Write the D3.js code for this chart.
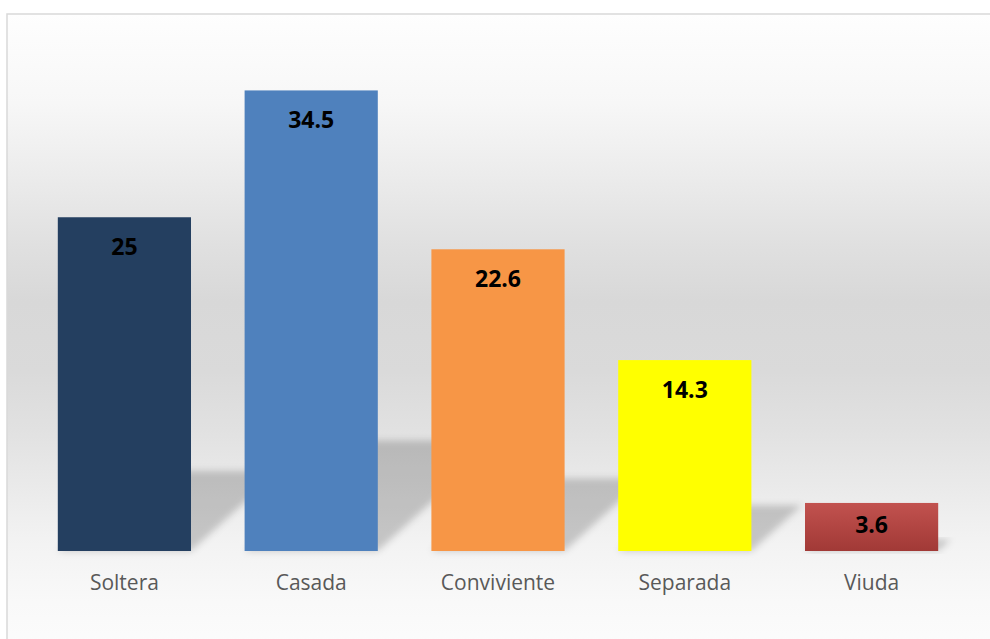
<!DOCTYPE html>
<html>
<head>
<meta charset="utf-8">
<script src="https://cdn.jsdelivr.net/npm/d3@7"></script>
<style>
  html, body { margin: 0; padding: 0; background: #ffffff; }
  svg { display: block; }
</style>
</head>
<body>
<div id="chart"></div>
<script>
// Estado civil (%)
const categories = ["Soltera", "Casada", "Conviviente", "Separada", "Viuda"];
const values = [25, 34.5, 22.6, 14.3, 3.6];
const barColors = ["#243f60", "#4f81bd", "#f79646", "#ffff00", "#c0504d"];

const W = 990, H = 639;
const plot = { left: 31, right: 965, top: 17, bottom: 551 };

const svg = d3.select("#chart").append("svg")
  .attr("width", W).attr("height", H);

const defs = svg.append("defs");

// chart area fill: light at top and bottom, darker band in the middle
const bg = defs.append("linearGradient")
  .attr("id", "bgGrad").attr("x1", 0).attr("y1", 0).attr("x2", 0).attr("y2", 1);
[[0, "#fefefe"], [0.14, "#f7f7f7"], [0.25, "#ececec"], [0.36, "#e0e0e0"],
 [0.45, "#d8d8d8"], [0.56, "#dadada"], [0.65, "#e1e1e1"], [0.73, "#e9e9e9"],
 [0.83, "#f3f3f3"], [0.92, "#f9f9f9"], [1, "#fcfcfc"]]
  .forEach(([o, c]) => bg.append("stop").attr("offset", o).attr("stop-color", c));

// darker bottom on the last bar
const redGrad = defs.append("linearGradient")
  .attr("id", "redGrad").attr("x1", 0).attr("y1", 0).attr("x2", 0).attr("y2", 1);
redGrad.append("stop").attr("offset", 0).attr("stop-color", "#c2524f");
redGrad.append("stop").attr("offset", 1).attr("stop-color", "#a13936");

const blur = defs.append("filter").attr("id", "shadowBlur")
  .attr("x", "-20%").attr("y", "-20%").attr("width", "140%").attr("height", "140%");
blur.append("feGaussianBlur").attr("stdDeviation", 3.5);

// chart area with its frame
svg.append("rect")
  .attr("x", 7).attr("y", 14).attr("width", W + 10).attr("height", H)
  .attr("fill", "url(#bgGrad)")
  .attr("stroke", "#d9d9d9").attr("stroke-width", 1.5);

const x = d3.scaleBand()
  .domain(categories)
  .range([plot.left, plot.right])
  .paddingInner(0.287)
  .paddingOuter(0.1435);

const y = d3.scaleLinear().domain([0, 40]).range([plot.bottom, plot.top]);

const data = categories.map((c, i) => ({ c, v: values[i], color: barColors[i] }));

// perspective shadows thrown up and to the right of each bar
const shadowScale = 0.24, shadowRun = 1.1;
svg.append("g").selectAll("path")
  .data(data)
  .join("path")
  .attr("d", d => {
    const x0 = x(d.c), x1 = x0 + x.bandwidth();
    const base = y(0);
    const sh = (y(0) - y(d.v)) * shadowScale;
    const k = sh * shadowRun;
    return `M${x0},${base}L${x1},${base}L${x1 + k},${base - sh}L${x0 + k},${base - sh}Z`;
  })
  .attr("fill", "#000")
  .attr("fill-opacity", 0.19)
  .attr("filter", "url(#shadowBlur)");

// bars
svg.append("g").selectAll("rect")
  .data(data)
  .join("rect")
  .attr("x", d => x(d.c))
  .attr("y", d => y(d.v))
  .attr("width", x.bandwidth())
  .attr("height", d => y(0) - y(d.v))
  .attr("fill", (d, i) => i === 4 ? "url(#redGrad)" : d.color);

// value labels near the top of each bar; short bars get theirs centred
svg.append("g").selectAll("text")
  .data(data)
  .join("text")
  .attr("x", d => x(d.c) + x.bandwidth() / 2)
  .attr("y", d => Math.min(y(d.v) + 37.5, (y(d.v) + y(0)) / 2 + 6))
  .attr("text-anchor", "middle")
  .attr("font-family", "'Open Sans', sans-serif")
  .attr("font-weight", "bold")
  .attr("font-size", 23)
  .attr("fill", "#000")
  .text(d => d.v);

// category axis labels
const xAxis = d3.axisBottom(x).tickSize(0).tickPadding(0);
const ax = svg.append("g")
  .attr("transform", `translate(0,${plot.bottom})`)
  .call(xAxis);
ax.select(".domain").remove();
ax.selectAll("text")
  .attr("dy", null)
  .attr("y", 39)
  .attr("font-family", "'Open Sans', sans-serif")
  .attr("font-size", 21)
  .attr("fill", "#595959");
</script>
</body>
</html>
